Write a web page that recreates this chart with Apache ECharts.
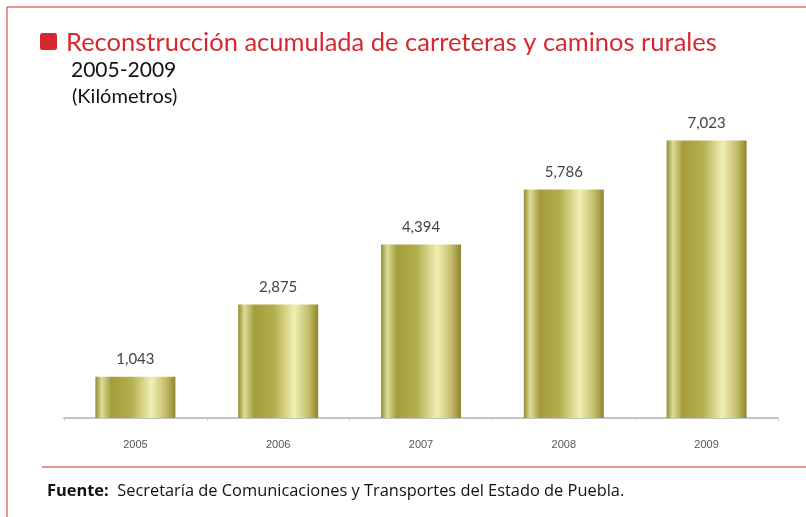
<!DOCTYPE html>
<html>
<head>
<meta charset="utf-8">
<script src="https://cdn.jsdelivr.net/npm/echarts@6/dist/echarts.min.js"></script>
<style>
  html, body { margin: 0; padding: 0; background: #fff; }
  #chart { width: 806px; height: 517px; }
</style>
</head>
<body>
<div id="chart"></div>
<script>
// datos del gráfico
const years = ['2005', '2006', '2007', '2008', '2009'];
const kilometros = [1043, 2875, 4394, 5786, 7023];

const chart = echarts.init(document.getElementById('chart'));

const red = '#d7282f';
const font = 'Lato, sans-serif';
const wide = '"Open Sans", sans-serif';

// degradado dorado de las barras
const barGradient = new echarts.graphic.LinearGradient(0, 0, 1, 0, [
  { offset: 0, color: '#948c34' },
  { offset: 0.08, color: '#dcdc98' },
  { offset: 0.2, color: '#a49c3c' },
  { offset: 0.45, color: '#b4ae4e' },
  { offset: 0.7, color: '#f0f0b4' },
  { offset: 0.88, color: '#c4bc6a' },
  { offset: 1, color: '#8e862e' }
]);

const option = {
  animation: false,
  grid: { left: 64, width: 714, top: 102, height: 316 },
  xAxis: {
    type: 'category',
    data: years,
    axisLine: { lineStyle: { color: '#c4c4c4', width: 2 } },
    axisTick: { show: true, length: 3, lineStyle: { color: '#cccccc' } },
    axisLabel: { color: '#555', fontSize: 11, margin: 21, fontFamily: '"Liberation Sans Narrow", sans-serif' }
  },
  yAxis: {
    type: 'value',
    min: 0,
    max: 8000,
    show: false
  },
  series: [{
    type: 'bar',
    data: kilometros,
    barWidth: 80,
    itemStyle: { color: barGradient },
    label: {
      show: true,
      position: 'top',
      distance: 10,
      color: '#444',
      fontSize: 15,
      fontFamily: font,
      formatter: p => p.value.toLocaleString('en-US')
    }
  }],
  graphic: [
    // marco rojo
    { type: 'line', shape: { x1: 7, y1: 7, x2: 806, y2: 7 }, style: { stroke: red, lineWidth: 1 } },
    { type: 'line', shape: { x1: 7, y1: 7, x2: 7, y2: 517 }, style: { stroke: red, lineWidth: 1 } },
    { type: 'line', shape: { x1: 42, y1: 467, x2: 806, y2: 467 }, style: { stroke: red, lineWidth: 1.2 } },
    // cuadro del título
    { type: 'rect', shape: { x: 40, y: 33, width: 17, height: 17, r: 2.5 }, style: { fill: red } },
    {
      type: 'text', left: 66, top: 30,
      style: { text: 'Reconstrucción acumulada de carreteras y caminos rurales', fill: red, font: '25.5px ' + font }
    },
    {
      type: 'text', left: 71, top: 60,
      style: { text: '2005-2009', fill: '#111', font: '21px ' + font }
    },
    {
      type: 'text', left: 72, top: 87,
      style: { text: '(Kilómetros)', fill: '#111', font: '20px ' + font }
    },
    {
      type: 'text', left: 47, top: 483,
      style: {
        text: '{b|Fuente:}  Secretaría de Comunicaciones y Transportes del Estado de Puebla.',
        fill: '#111', font: '16.4px ' + wide,
        rich: { b: { fontWeight: 'bold', fontSize: 16.4, fontFamily: wide, fill: '#111' } }
      }
    }
  ]
};

chart.setOption(option);
window.addEventListener('resize', () => chart.resize());
</script>
</body>
</html>
